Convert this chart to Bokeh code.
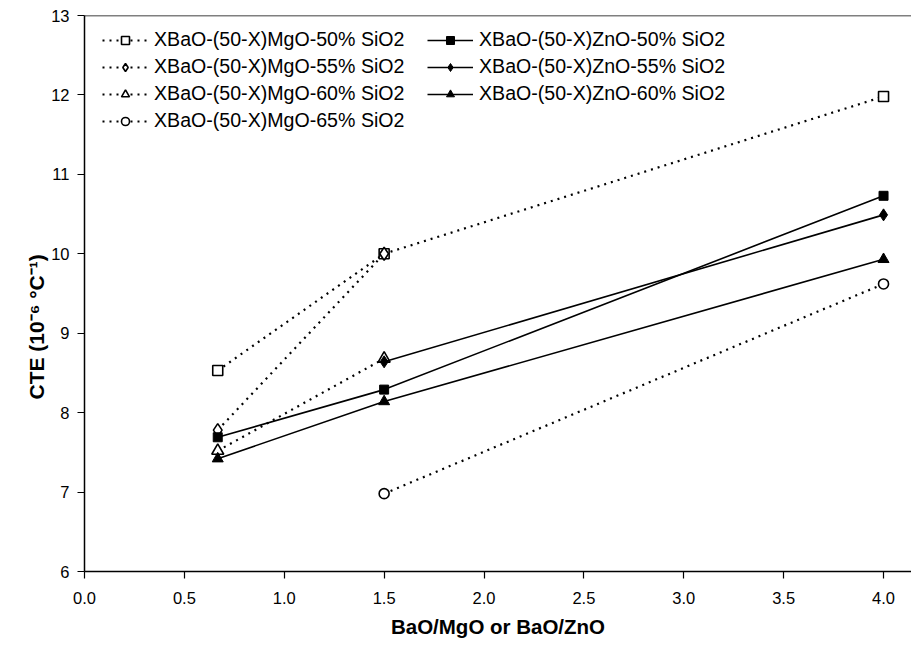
from bokeh.plotting import figure
from bokeh.models import Legend, LegendItem, FixedTicker, PrintfTickFormatter, Span, Range1d, Title
from bokeh.embed import file_html
from bokeh.resources import INLINE

# Data
x_mg50 = [0.667, 1.5, 4.0]
y_mg50 = [8.53, 10.0, 11.98]
x_mg55 = [0.667, 1.5]
y_mg55 = [7.78, 10.0]
x_mg60 = [0.667, 1.5]
y_mg60 = [7.52, 8.68]
x_mg65 = [1.5, 4.0]
y_mg65 = [6.98, 9.62]
x_zn50 = [0.667, 1.5, 4.0]
y_zn50 = [7.69, 8.29, 10.73]
x_zn55 = [1.5, 4.0]
y_zn55 = [8.64, 10.49]
x_zn60 = [0.667, 1.5, 4.0]
y_zn60 = [7.42, 8.14, 9.93]

labels_mg = ["XBaO-(50-X)MgO-50% SiO2", "XBaO-(50-X)MgO-55% SiO2",
             "XBaO-(50-X)MgO-60% SiO2", "XBaO-(50-X)MgO-65% SiO2"]
labels_zn = ["XBaO-(50-X)ZnO-50% SiO2", "XBaO-(50-X)ZnO-55% SiO2",
             "XBaO-(50-X)ZnO-60% SiO2"]
x_ticks = [0.0, 0.5, 1.0, 1.5, 2.0, 2.5, 3.0, 3.5, 4.0]
y_ticks = [6, 7, 8, 9, 10, 11, 12, 13]
x_title = "BaO/MgO or BaO/ZnO"
y_title = "CTE (10\u207b\u2076 \u00b0C\u207b\u00b9)"

FONT = "Liberation Sans"

p = figure(width=911, height=645, x_range=Range1d(0, 4.14), y_range=Range1d(6, 13),
           output_backend="svg", toolbar_location=None,
           min_border_left=84, min_border_right=0, min_border_top=15, min_border_bottom=74)
p.xgrid.visible = False
p.ygrid.visible = False
p.outline_line_color = None
p.background_fill_color = "white"
p.border_fill_color = "white"

for ax in (p.xaxis[0], p.yaxis[0]):
    ax.axis_line_width = 1.5
    ax.axis_line_color = "black"
    ax.major_tick_line_color = "black"
    ax.major_tick_line_width = 1.2
    ax.major_tick_out = 7
    ax.major_tick_in = 0
    ax.minor_tick_line_color = None
    ax.major_label_text_font = FONT
    ax.major_label_text_font_size = "16.5px"
    ax.major_label_text_color = "black"
    ax.axis_label_text_font = FONT
    ax.axis_label_text_font_style = "bold"
    ax.axis_label_text_font_size = "20.5px"
    ax.axis_label_text_color = "black"

p.xaxis.ticker = FixedTicker(ticks=x_ticks)
p.xaxis.formatter = PrintfTickFormatter(format="%.1f")
p.yaxis.ticker = FixedTicker(ticks=y_ticks)
p.xaxis.axis_label = x_title
p.xaxis.major_label_standoff = 13
p.xaxis.axis_label_standoff = 8
p.yaxis.major_label_standoff = 8

# y title as a side title so it can be shifted below the frame centre
p.add_layout(Title(text=y_title, align="left", offset=172, standoff=2,
                   text_font=FONT, text_font_style="bold", text_font_size="21px",
                   text_color="black"), "left")

p.add_layout(Span(location=13, dimension="width", line_color="black", line_width=1.5))

DOT = "2 5"
mg_items = []
specs_mg = [(x_mg50, y_mg50, "square", 10), (x_mg55, y_mg55, "diamond", 13),
            (x_mg60, y_mg60, "triangle", 12), (x_mg65, y_mg65, "circle", 10)]
for (xs, ys, mk, sz), lab in zip(specs_mg, labels_mg):
    ln = p.line(xs, ys, line_color="black", line_width=2.2, line_dash=DOT)
    sc = p.scatter(xs, ys, marker=mk, size=sz, fill_color="white", line_color="black", line_width=1.6)
    mg_items.append(LegendItem(label=lab, renderers=[ln, sc]))

zn_items = []
specs_zn = [(x_zn50, y_zn50, "square", 9), (x_zn55, y_zn55, "diamond", 12),
            (x_zn60, y_zn60, "triangle", 11)]
for (xs, ys, mk, sz), lab in zip(specs_zn, labels_zn):
    ln = p.line(xs, ys, line_color="black", line_width=1.6)
    sc = p.scatter(xs, ys, marker=mk, size=sz, fill_color="black", line_color="black", line_width=1)
    zn_items.append(LegendItem(label=lab, renderers=[ln, sc]))

def make_legend(items, loc):
    return Legend(items=items, location=loc, border_line_color=None,
                  background_fill_alpha=0, padding=0, margin=0, spacing=4,
                  glyph_width=46, glyph_height=20, label_height=20, label_standoff=6,
                  label_text_font=FONT, label_text_font_size="19.6px",
                  label_text_color="black")

p.add_layout(make_legend(mg_items, (18, 439)))
p.add_layout(make_legend(zn_items, (343, 466)))

open("out.html", "w").write(file_html(p, INLINE))
